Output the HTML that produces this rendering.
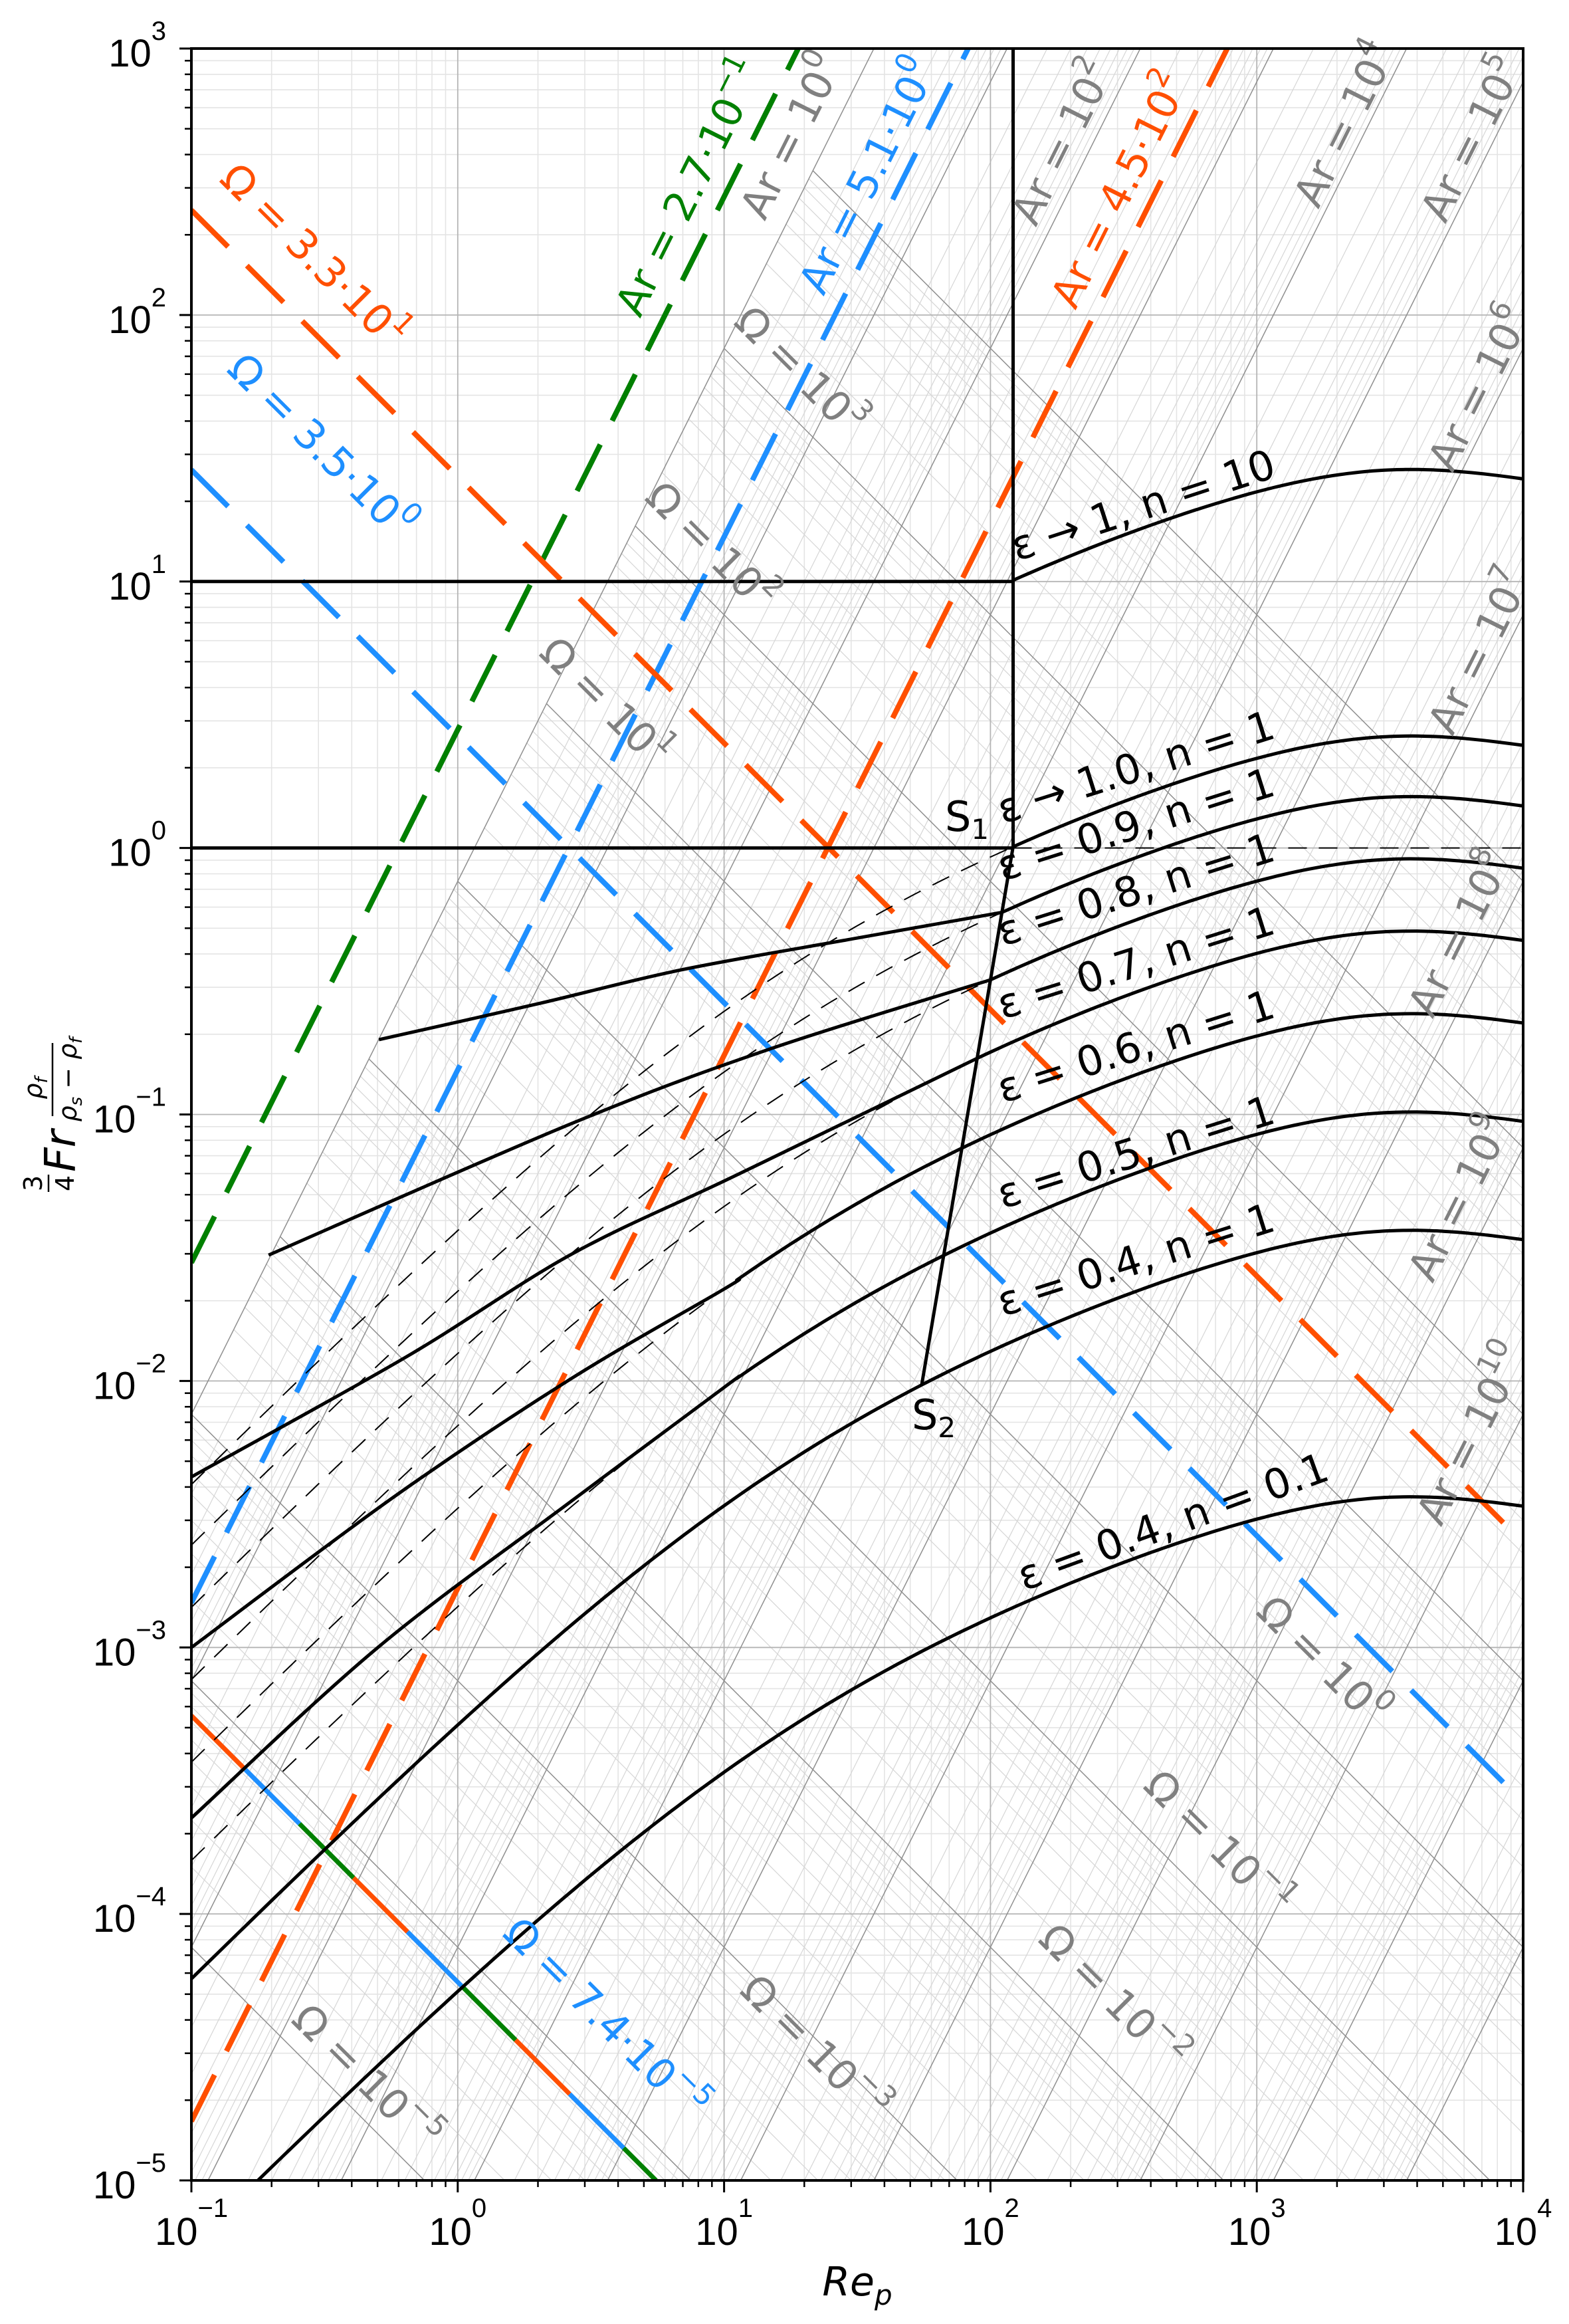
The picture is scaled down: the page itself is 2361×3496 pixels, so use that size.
<!DOCTYPE html>
<html><head><meta charset="utf-8"><style>html,body{margin:0;padding:0;background:#fff;overflow:hidden;width:2361px;height:3496px}svg{display:block;overflow:hidden}</style></head>
<body>
<svg id="c" xmlns="http://www.w3.org/2000/svg" width="2361" height="3496" viewBox="0 0 2361 3496"></svg>
<script>
const L=288,R=2292,T=73,B=3280,DX=(R-L)/5,DY=(B-T)/8;
const X=lx=>L+(lx+1)*DX, Y=ly=>T+(3-ly)*DY;
const lg=Math.log10, L75=lg(0.75);
let s='<rect width="2361" height="3496" fill="#fff"/>';
s+='<defs><clipPath id="cp"><rect x="'+L+'" y="'+T+'" width="'+(R-L)+'" height="'+(B-T)+'"/></clipPath></defs>';
function line(x1,y1,x2,y2,c,w,extra){return '<line x1="'+x1.toFixed(1)+'" y1="'+y1.toFixed(1)+'" x2="'+x2.toFixed(1)+'" y2="'+y2.toFixed(1)+'" stroke="'+c+'" stroke-width="'+w+'" '+(extra||'')+'/>';}
function dline(a,b,c,d,col,w,ex){return line(X(a),Y(b),X(c),Y(d),col,w,ex);}
let g='<g clip-path="url(#cp)">';
for(let k=-1;k<4;k++)for(let m=2;m<10;m++){const x=X(k+lg(m));g+=line(x,T,x,B,'#e4e4e4',1.6);}
for(let k=-5;k<3;k++)for(let m=2;m<10;m++){const y=Y(k+lg(m));g+=line(L,y,R,y,'#e4e4e4',1.6);}
for(let k=0;k<12;k++)for(let m=2;m<10;m++){const la=k+lg(m);g+=dline(-1,L75-2-la,4,L75+8-la,'#d6d6d6',1.2);}
for(let k=-5;k<4;k++)for(let m=2;m<10;m++){const lo=k+lg(m),x0=lo/3;g+=dline(x0,L75+lo-x0,4,L75+lo-4,'#d6d6d6',1.2);}
for(let k=0;k<4;k++){const x=X(k);g+=line(x,T,x,B,'#b5b5b5',1.8);}
for(let k=-4;k<3;k++){const y=Y(k);g+=line(L,y,R,y,'#b5b5b5',1.8);}
for(let k=0;k<13;k++){g+=dline(-1,L75-2-k,4,L75+8-k,'#8f8f8f',1.5);}
for(let k=-5;k<5;k++){const x0=k/3;g+=dline(x0,L75+k-x0,4,L75+k-4,'#8f8f8f',1.5);}
function lcd(lx){const r=Math.pow(10,lx);const cd=24/r*(1+0.15*Math.pow(r,0.687))+0.42/(1+42500*Math.pow(r,-1.16));return -lg(cd);}
const Sx=t=>2.085-0.343*t, Sy=t=>0.005-2.019*t;
function cross(off){let a=0,b=1;for(let i=0;i<60;i++){const m=(a+b)/2;const f=lcd(Sx(m))+off-Sy(m);if(f<0)a=m;else b=m;}const t=(a+b)/2;return [Sx(t),Sy(t)];}
function cr(pts){let d='M'+pts[0][0].toFixed(1)+','+pts[0][1].toFixed(1);for(let i=0;i<pts.length-1;i++){const p0=pts[Math.max(i-1,0)],p1=pts[i],p2=pts[i+1],p3=pts[Math.min(i+2,pts.length-1)];const c1=[p1[0]+(p2[0]-p0[0])/6,p1[1]+(p2[1]-p0[1])/6],c2=[p2[0]-(p3[0]-p1[0])/6,p2[1]-(p3[1]-p1[1])/6];d+='C'+c1[0].toFixed(1)+','+c1[1].toFixed(1)+' '+c2[0].toFixed(1)+','+c2[1].toFixed(1)+' '+p2[0].toFixed(1)+','+p2[1].toFixed(1);}return d;}
function formPts(off,a,b){const p=[];const n=Math.max(2,Math.ceil((b-a)/0.05));for(let i=0;i<=n;i++){const lx=a+(b-a)*i/n;p.push([X(lx),Y(lcd(lx)+off)]);}return p;}
const colO='#ff4f00',colB='#1e8fff',colG='#008000';
const dash='stroke-dasharray="78,40" stroke-linecap="butt"';
g+=dline(-1,L75-2+lg(1/0.27),4,L75+8-lg(0.27),colG,8,dash);
g+=dline(-1,L75-2-lg(5.1),4,L75+8-lg(5.1),colB,8,dash);
g+=dline(-1,L75-2-lg(450),4,L75+8-lg(450),colO,8,dash);
const lo33=lg(33),lo35=lg(3.5),le=lg(9000);
g+=dline(-1,L75+lo33+1,le,L75+lo33-le,colO,8,dash);
g+=dline(-1,L75+lo35+1,le,L75+lo35-le,colB,8,dash);
const lo74=lg(7.4e-5),xe=lg(5.55);
const seg=115;
g+=dline(-1,L75+lo74+1,xe,L75+lo74-xe,colO,7,'stroke-dasharray="'+seg+','+(2*seg)+'"');
g+=dline(-1,L75+lo74+1,xe,L75+lo74-xe,colB,7,'stroke-dasharray="'+seg+','+(2*seg)+'" stroke-dashoffset="-'+seg+'"');
g+=dline(-1,L75+lo74+1,xe,L75+lo74-xe,colG,7,'stroke-dasharray="'+seg+','+(2*seg)+'" stroke-dashoffset="-'+(2*seg)+'"');
g+=dline(-1,1,2.085,1,'#000',5);
g+=dline(-1,0,2.085,0,'#000',5);
g+=line(X(2.085),T,X(2.085),Y(0),'#000',5);
g+=dline(2.085,0,4,0,'#000',2,'stroke-dasharray="28,18"');
g+=dline(2.085,0.005,1.742,-2.014,'#000',5);
const offs={c0:1.005,c1:0.005,c2:-0.2225,c3:-0.456,c4:-0.727,c5:-1.037,c6:-1.406,c7:-1.85,c8:-2.85};
const P=(a)=>a.map(q=>[X(q[0]),Y(q[1])]);
[offs.c1,offs.c2,offs.c3,offs.c4,offs.c5,offs.c6].forEach(o=>{const c=cross(o);g+='<path d="'+cr(formPts(o,-1,c[0]))+'" fill="none" stroke="#000" stroke-width="2" stroke-dasharray="28,20"/>';});
function solid(pts){g+='<path d="'+cr(pts)+'" fill="none" stroke="#000" stroke-width="5"/>';}
solid(formPts(offs.c0,2.085,4));
solid(formPts(offs.c1,2.085,4));
{const c=cross(offs.c2);solid(P([[-0.296,-0.719],[0.3,-0.585],[0.842,-0.4566],[1.5,-0.338]]).concat([[X(c[0]),Y(c[1])]]));solid(formPts(offs.c2,c[0],4));}
{const c=cross(offs.c3);solid(P([[-0.71,-1.5276],[0.428,-1.034],[1.173,-0.754]]).concat([[X(c[0]),Y(c[1])]]));solid(formPts(offs.c3,c[0],4));}
{const c=cross(offs.c4);solid(P([[-1,-2.36],[-0.192,-1.909],[0.428,-1.524],[1.049,-1.2266]]).concat([[X(c[0]),Y(c[1])]]));solid(formPts(offs.c4,c[0],4));}
solid(P([[-1,-3.0],[-0.234,-2.431],[0.428,-1.99]]).concat(formPts(offs.c5,1.0,4)));
solid(P([[-1,-3.64],[-0.3,-3.0],[0.428,-2.45]]).concat(formPts(offs.c6,1.0,4)));
solid(formPts(offs.c7,-1,4));
solid(formPts(offs.c8,-1,4));
g+='</g>';
s+=g;
function sup(base,ex,fs){return base+'<tspan dy="'+(-fs*0.38)+'" font-size="'+(fs*0.7)+'">'+ex+'</tspan>';}
function lab(x,y,rot,txt,col,fs){fs=fs||62;return '<text x="0" y="0" transform="translate('+x+','+y+') rotate('+rot+')" text-anchor="middle" dominant-baseline="central" font-family="DejaVu Sans, Liberation Sans, sans-serif" font-size="'+fs+'" fill="'+col+'">'+txt+'</text>';}
const gr='#808080',ar=-63.4,om=45,F=62;
s+=lab(1191,205,ar,sup('Ar = 10','0',F),gr,F);
s+=lab(1599,214,ar,sup('Ar = 10','2',F),gr,F);
s+=lab(2024,187,ar,sup('Ar = 10','4',F),gr,F);
s+=lab(2215,209,ar,sup('Ar = 10','5',F),gr,F);
s+=lab(2226,584,ar,sup('Ar = 10','6',F),gr,F);
s+=lab(2226,980,ar,sup('Ar = 10','7',F),gr,F);
s+=lab(2196,1405,ar,sup('Ar = 10','8',F),gr,F);
s+=lab(2196,1803,ar,sup('Ar = 10','9',F),gr,F);
s+=lab(2215,2157,ar,sup('Ar = 10','10',F),gr,F);
s+=lab(1038,282,ar,sup('Ar = 2.7·10','−1',F),colG,F);
s+=lab(1306,265,ar,sup('Ar = 5.1·10','0',F),colB,F);
s+=lab(1685,286,ar,sup('Ar = 4.5·10','2',F),colO,F);
s+=lab(1204,558,om,sup('Ω = 10','3',F),gr,F);
s+=lab(1070,822,om,sup('Ω = 10','2',F),gr,F);
s+=lab(911,1056,om,sup('Ω = 10','1',F),gr,F);
s+=lab(1990,2498,om,sup('Ω = 10','0',F),gr,F);
s+=lab(1833,2773,om,sup('Ω = 10','−1',F),gr,F);
s+=lab(1675,3004,om,sup('Ω = 10','−2',F),gr,F);
s+=lab(1226,3081,om,sup('Ω = 10','−3',F),gr,F);
s+=lab(551,3125,om,sup('Ω = 10','−5',F),gr,F);
s+=lab(472,385,om,sup('Ω = 3.3·10','1',F),colO,F);
s+=lab(483,671,om,sup('Ω = 3.5·10','0',F),colB,F);
s+=lab(911,3037,om,sup('Ω = 7.4·10','−5',F),colB,F);
const k='#000';
s+=lab(1720,760,-18,'ε → 1, n = 10',k,F);
s+=lab(1709,1154,-17.5,'ε → 1.0, n = 1',k,F);
s+=lab(1709,1240,-17.5,'ε = 0.9, n = 1',k,F);
s+=lab(1709,1338,-17.5,'ε = 0.8, n = 1',k,F);
s+=lab(1709,1448,-17.5,'ε = 0.7, n = 1',k,F);
s+=lab(1709,1574,-17.5,'ε = 0.6, n = 1',k,F);
s+=lab(1709,1733,-17.5,'ε = 0.5, n = 1',k,F);
s+=lab(1709,1895,-17.5,'ε = 0.4, n = 1',k,F);
s+=lab(1765,2289,-20,'ε = 0.4, n = 0.1',k,F);
s+='<text x="1455" y="1250" font-family="DejaVu Sans, sans-serif" font-size="62" text-anchor="middle">S<tspan dy="12" font-size="42">1</tspan></text>';
s+='<text x="1405" y="2150" font-family="DejaVu Sans, sans-serif" font-size="62" text-anchor="middle">S<tspan dy="12" font-size="42">2</tspan></text>';
let t='';
for(let k=-1;k<=4;k++){const x=X(k);t+=line(x,B,x,B+18,'#000',3);}
for(let k=-1;k<4;k++)for(let m=2;m<10;m++){const x=X(k+lg(m));t+=line(x,B,x,B+10,'#000',2.5);}
for(let k=-5;k<=3;k++){const y=Y(k);t+=line(L-18,y,L,y,'#000',3);}
for(let k=-5;k<3;k++)for(let m=2;m<10;m++){const y=Y(k+lg(m));t+=line(L-10,y,L,y,'#000',2.5);}
s+=t;
s+='<rect x="'+L+'" y="'+T+'" width="'+(R-L)+'" height="'+(B-T)+'" fill="none" stroke="#000" stroke-width="4"/>';
const ff='font-family="Liberation Sans, Arial, sans-serif"';
for(let k=-1;k<=4;k++){const ex=k<0?'−'+(-k):''+k;s+='<text x="'+X(k)+'" y="3377" text-anchor="middle" '+ff+' font-size="58">10<tspan dy="-42" font-size="40">'+ex+'</tspan></text>';}
for(let k=-5;k<=3;k++){const ex=k<0?'−'+(-k):''+k;s+='<text x="250" y="'+(Y(k)+27)+'" text-anchor="end" '+ff+' font-size="58">10<tspan dy="-40" font-size="40">'+ex+'</tspan></text>';}
s+='<text x="1290" y="3453" text-anchor="middle" font-family="DejaVu Sans, sans-serif" font-style="italic" font-size="60">Re<tspan dy="14" font-size="42">p</tspan></text>';
let yl='<g transform="translate(75,1677) rotate(-90)" font-family="DejaVu Sans, sans-serif">';
yl+='<text x="-103" y="-12" text-anchor="middle" font-size="38">3</text>';
yl+=line(-116,-2,-90,-2,'#000',2.5);
yl+='<text x="-103" y="36" text-anchor="middle" font-size="38">4</text>';
yl+='<text x="-86" y="38" font-size="64" font-style="italic">Fr</text>';
yl+='<text x="40" y="-12" text-anchor="middle" font-size="38" font-style="italic">ρ<tspan dy="8" font-size="26">f</tspan></text>';
yl+=line(-2,4,108,4,'#000',2.5);
yl+='<text x="53" y="40" text-anchor="middle" font-size="38" font-style="italic">ρ<tspan dy="8" font-size="26">s</tspan><tspan dy="-8"> − ρ</tspan><tspan dy="8" font-size="26">f</tspan></text>';
yl+='</g>';
s+=yl;
document.getElementById('c').innerHTML=s;
</script>
</body></html>
